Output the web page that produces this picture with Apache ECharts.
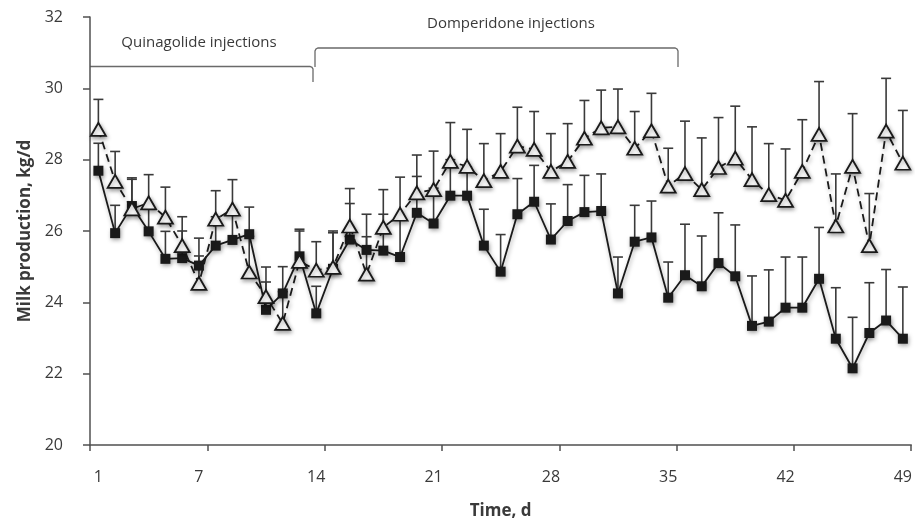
<!DOCTYPE html>
<html><head><meta charset="utf-8">
<script src="https://cdn.jsdelivr.net/npm/echarts@6/dist/echarts.min.js"></script>
<style>html,body{margin:0;padding:0;background:#fff}#c{width:915px;height:525px}</style>
</head><body><div id="c"></div>
<script>
const days = ['1','2','3','4','5','6','7','8','9','10','11','12','13','14','15','16','17','18','19','20','21','22','23','24','25','26','27','28','29','30','31','32','33','34','35','36','37','38','39','40','41','42','43','44','45','46','47','48','49'];
const labelDays = ['1','7','14','21','28','35','42','49'];
const yTicks = [20, 22, 24, 26, 28, 30, 32];

const squareMeans = [27.69,25.94,26.70,25.99,25.22,25.24,25.03,25.59,25.75,25.91,23.79,24.25,25.29,23.69,24.94,25.76,25.47,25.45,25.27,26.51,26.21,26.99,26.99,25.59,24.86,26.47,26.82,25.76,26.28,26.53,26.56,24.25,25.70,25.82,24.13,24.76,24.45,25.10,24.73,23.34,23.46,23.85,23.85,24.66,22.98,22.15,23.14,23.49,22.98];
const squareUpper = [28.46,26.72,27.49,26.75,25.99,26.00,25.80,26.40,26.60,26.67,24.99,25.00,26.00,24.45,25.95,26.77,26.47,26.47,26.30,27.53,27.20,28.00,27.80,26.61,25.90,27.47,27.84,26.76,27.30,27.56,27.60,25.27,26.72,26.84,25.13,26.19,25.86,26.51,26.17,24.74,24.91,25.27,25.27,26.10,24.41,23.58,24.55,24.92,24.43];
const triangleMeans = [28.85,27.39,26.62,26.79,26.39,25.59,24.53,26.33,26.61,24.85,24.16,23.41,25.15,24.90,24.98,26.14,24.79,26.10,26.47,27.07,27.16,27.95,27.81,27.41,27.67,28.38,28.29,27.67,27.95,28.60,28.89,28.92,28.32,28.81,27.26,27.61,27.16,27.78,28.04,27.44,27.02,26.86,27.67,28.71,26.14,27.81,25.59,28.80,27.90];
const triangleUpper = [29.69,28.23,27.45,27.58,27.23,26.40,25.30,27.13,27.44,25.85,24.57,24.30,26.05,25.70,26.00,27.19,25.84,27.16,27.51,28.13,28.24,29.04,28.85,28.45,28.73,29.47,29.35,28.73,29.01,29.66,29.95,29.98,29.35,29.86,28.32,29.08,28.61,29.18,29.50,28.92,28.45,28.30,29.12,30.19,27.60,29.29,27.05,30.28,29.38];

const FONT = 'Open Sans';
const TXT = '#3a3a3a';
const AX = '#505050';
const shadow = {shadowColor:'rgba(0,0,0,0.35)', shadowBlur:4, shadowOffsetX:1, shadowOffsetY:2};

function errorSeries(means, uppers) {
  return {
    type: 'custom',
    silent: true,
    z: 1,
    data: means.map((m, i) => [i, m, uppers[i]]),
    encode: {x: 0, y: [1, 2]},
    renderItem(params, api) {
      const p0 = api.coord([api.value(0), api.value(1)]);
      const p1 = api.coord([api.value(0), api.value(2)]);
      const hw = 5;
      const st = {stroke:'#3a3a3a', lineWidth:1.6};
      return {type:'group', children:[
        {type:'line', shape:{x1:p0[0], y1:p0[1], x2:p1[0], y2:p1[1]}, style:st},
        {type:'line', shape:{x1:p1[0]-hw, y1:p1[1], x2:p1[0]+hw, y2:p1[1]}, style:st}
      ]};
    }
  };
}

const bracketStyle = {stroke:'#6a6a6a', lineWidth:1.3, fill:null};
const chart = echarts.init(document.getElementById('c'), null, {renderer:'canvas'});
chart.setOption({
  animation: false,
  backgroundColor: '#fff',
  textStyle: {fontFamily: FONT},
  grid: {left: 90, right: 3, top: 17, bottom: 75},
  xAxis: {
    type: 'category',
    data: days,
    boundaryGap: true,
    name: 'Time, d',
    nameLocation: 'middle',
    nameGap: 58,
    nameTextStyle: {fontFamily: FONT, fontWeight: 'bold', fontSize: 17, color: TXT},
    axisLine: {lineStyle: {color: AX, width: 1.5}},
    axisTick: {show: true, length: 6, interval: (i) => i % 7 === 0, lineStyle: {color: AX, width: 1.5}},
    axisLabel: {interval: (i, v) => labelDays.indexOf(v) >= 0, margin: 24, fontSize: 16, color: TXT, fontFamily: FONT},
    splitLine: {show: false}
  },
  yAxis: {
    type: 'value',
    min: yTicks[0],
    max: yTicks[yTicks.length - 1],
    interval: 2,
    name: 'Milk production, kg/d',
    nameLocation: 'middle',
    nameGap: 54,
    nameTextStyle: {fontFamily: FONT, fontWeight: 'bold', fontSize: 17, color: TXT},
    axisLine: {show: true, lineStyle: {color: AX, width: 1.5}},
    axisTick: {show: true, length: 7, lineStyle: {color: AX, width: 1.5}},
    axisLabel: {margin: 27, fontSize: 16, color: TXT, fontFamily: FONT},
    splitLine: {show: false}
  },
  graphic: [
    {type:'polyline', silent:true, shape:{points:[[90,66.5],[310,66.5],[312,67.3],[313,69],[313,82]]}, style:bracketStyle},
    {type:'polyline', silent:true, shape:{points:[[315,67],[315,51],[316,49],[318,48],[675,48],[677,49],[678,51],[678,67]]}, style:bracketStyle},
    {type:'text', silent:true, x:199, y:43, style:{text:'Quinagolide injections', font:'15px "' + FONT + '"', fill:TXT, textAlign:'center', textVerticalAlign:'middle'}},
    {type:'text', silent:true, x:511, y:24, style:{text:'Domperidone injections', font:'15px "' + FONT + '"', fill:TXT, textAlign:'center', textVerticalAlign:'middle'}}
  ],
  series: [
    errorSeries(triangleMeans, triangleUpper),
    errorSeries(squareMeans, squareUpper),
    {
      name: 'Squares', type: 'line', data: squareMeans, z: 3,
      symbol: 'rect', symbolSize: 10, showAllSymbol: true,
      itemStyle: Object.assign({color: '#1a1a1a', borderColor: '#1a1a1a', borderWidth: 0}, shadow),
      lineStyle: Object.assign({color: '#1a1a1a', width: 1.8, type: 'solid'}, shadow)
    },
    {
      name: 'Triangles', type: 'line', data: triangleMeans, z: 4,
      symbol: 'triangle', symbolSize: [15, 13], showAllSymbol: true,
      itemStyle: Object.assign({color: '#ffffff', borderColor: '#1a1a1a', borderWidth: 1.8}, shadow),
      lineStyle: Object.assign({color: '#1a1a1a', width: 1.8, type: [8, 5]}, shadow)
    }
  ]
});
</script>
</body></html>
